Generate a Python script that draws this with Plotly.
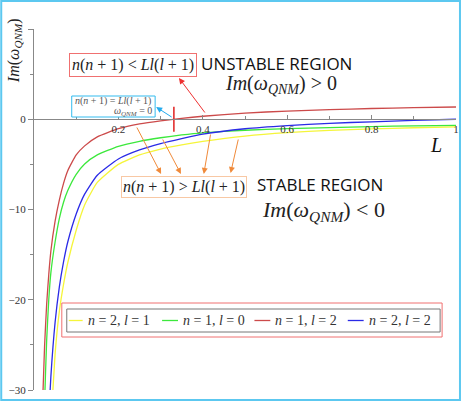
import plotly.graph_objects as go

# ---------------- data ----------------
L_vals = [0.02, 0.025, 0.03, 0.035, 0.04, 0.05, 0.06, 0.07, 0.08, 0.1, 0.12, 0.15,
          0.2, 0.25, 0.3, 0.35, 0.4, 0.5, 0.6, 0.7, 0.8, 0.9, 1.0]

im_n2_l1 = [-66.0, -53.0, -45.0, -38.5, -34.0, -26.0, -21.3, -18.3, -15.9, -12.3, -9.5, -7.0,
            -5.0, -3.95, -3.3, -2.83, -2.45, -1.86, -1.48, -1.24, -1.07, -0.94, -0.85]
im_n1_l0 = [-40.0, -31.5, -24.5, -20.0, -17.0, -13.6, -11.0, -9.2, -7.9, -6.1, -4.95, -3.95,
            -3.0, -2.44, -2.05, -1.74, -1.5, -1.22, -1.04, -0.92, -0.81, -0.73, -0.67]
im_n1_l2 = [-32.0, -25.2, -20.5, -17.2, -14.6, -11.3, -8.95, -7.1, -5.7, -3.95, -2.95, -1.95,
            -1.05, -0.52, -0.17, 0.1, 0.33, 0.68, 0.91, 1.07, 1.19, 1.28, 1.36]
im_n2_l2 = [-56.0, -45.0, -38.0, -33.0, -28.5, -22.5, -18.6, -15.8, -13.6, -10.5, -8.3, -6.2,
            -4.4, -3.4, -2.7, -2.15, -1.65, -1.05, -0.7, -0.45, -0.28, -0.13, 0.0]

series_names = ["<i>n</i> = 2, <i>l</i> = 1", "<i>n</i> = 1, <i>l</i> = 0",
                "<i>n</i> = 1, <i>l</i> = 2", "<i>n</i> = 2, <i>l</i> = 2"]
series_values = [im_n2_l1, im_n1_l0, im_n1_l2, im_n2_l2]
series_colors = ["#f5f53a", "#3ce83c", "#cc4a4a", "#2a2ae6"]

x_tick_vals = [0.2, 0.4, 0.6, 0.8, 1.0]
x_tick_text = ["0.2", "0.4", "0.6", "0.8", "1"]
y_tick_vals = [-30, -20, -10, 0, 10]
y_tick_text = ["\u221230", "\u221220", "\u221210", "0", ""]

# ---------------- layout helpers (pixel -> paper) ----------------
W, H = 464, 401
ML, MR, MT, MB = 34, 5, 29, 11
PW, PH = W - ML - MR, H - MT - MB


def px(x):
    return (x - ML) / PW


def py(y):
    return (H - MB - y) / PH


SERIF = "Liberation Serif"
SANS = "Open Sans"

fig = go.Figure()
for name, vals, col in zip(series_names, series_values, series_colors):
    fig.add_trace(go.Scatter(x=L_vals, y=vals, mode="lines", name=name, showlegend=False,
                             line=dict(color=col, width=1.3, shape="spline", smoothing=0.5)))

# red marker where the n=1, l=2 curve crosses zero (from the data)
xc = None
for i in range(len(im_n1_l2) - 1):
    a, b = im_n1_l2[i], im_n1_l2[i + 1]
    if a < 0 <= b:
        xc = L_vals[i] + (0 - a) * (L_vals[i + 1] - L_vals[i]) / (b - a)
        break
fig.add_trace(go.Scatter(x=[xc], y=[0], mode="markers", showlegend=False,
                         marker=dict(symbol="line-ns", size=18,
                                     line=dict(color="#e02020", width=1.5))))

fig.update_layout(
    width=W, height=H,
    margin=dict(l=ML, r=MR, t=MT, b=MB),
    paper_bgcolor="white", plot_bgcolor="white",
    font=dict(family=SERIF, size=12, color="#333"),
    showlegend=False,
)
fig.update_xaxes(range=[0, 1], anchor="free", position=0.75, showline=True, linecolor="#888",
                 linewidth=1, showgrid=False, zeroline=False,
                 tickmode="array", tickvals=x_tick_vals, ticktext=x_tick_text,
                 ticks="inside", ticklen=4, tickcolor="#888",
                 minor=dict(tickmode="linear", tick0=0, dtick=0.1, ticks="inside", ticklen=3, tickcolor="#888"),
                 tickfont=dict(family=SERIF, size=11, color="#333"))
fig.update_yaxes(range=[-30, 10], showline=True, linecolor="#888", linewidth=1,
                 showgrid=False, zeroline=False,
                 tickmode="array", tickvals=y_tick_vals, ticktext=y_tick_text,
                 ticks="outside", ticklen=5, tickcolor="#888",
                 minor=dict(tickmode="linear", tick0=0, dtick=5, ticks="outside", ticklen=3, tickcolor="#888"),
                 tickfont=dict(family=SERIF, size=11, color="#333"))

shapes = []
# frame around the whole picture
shapes.append(dict(type="rect", xref="paper", yref="paper",
                   x0=px(1), x1=px(463), y0=py(400), y1=py(1),
                   line=dict(color="#5cc8f0", width=2), layer="above"))
# legend boxes (red outer, grey inner)
shapes.append(dict(type="rect", xref="paper", yref="paper",
                   x0=px(62), x1=px(445), y0=py(337), y1=py(303),
                   fillcolor="white", line=dict(color="#f07070", width=1), layer="above"))
shapes.append(dict(type="rect", xref="paper", yref="paper",
                   x0=px(67), x1=px(443), y0=py(332), y1=py(309),
                   line=dict(color="#777", width=1), layer="above"))
# blue box
shapes.append(dict(type="rect", xref="paper", yref="paper",
                   x0=px(72), x1=px(156), y0=py(117), y1=py(96),
                   fillcolor="white", line=dict(color="#33bbee", width=1), layer="above"))

ann = []
ann.append(dict(x=px(15), y=py(51), xref="paper", yref="paper", textangle=-90,
                xanchor="center", yanchor="middle",
                text="<i>Im</i>(<i>\u03c9</i><sub><i>QNM</i></sub>)", showarrow=False,
                font=dict(family=SERIF, size=16, color="#222")))
ann.append(dict(x=px(439), y=py(145), xref="paper", yref="paper", xanchor="center", yanchor="middle",
                text="<i>L</i>", showarrow=False, font=dict(family=SERIF, size=20, color="#111")))
ann.append(dict(x=px(134), y=py(65), xref="paper", yref="paper", xanchor="center", yanchor="middle",
                text="<i>n</i>(<i>n</i> + 1) &lt; <i>Ll</i>(<i>l</i> + 1)", showarrow=False,
                bordercolor="#f07070", borderwidth=1, borderpad=2, bgcolor="white",
                font=dict(family=SERIF, size=16, color="#222")))
ann.append(dict(x=px(200), y=py(64), xref="paper", yref="paper", xanchor="left", yanchor="middle",
                text="UNSTABLE REGION", showarrow=False, font=dict(family=SANS, size=17, color="#111")))
ann.append(dict(x=px(224), y=py(85), xref="paper", yref="paper", xanchor="left", yanchor="middle",
                text="<i>Im</i>(<i>\u03c9</i><sub><i>QNM</i></sub>) &gt; 0", showarrow=False,
                font=dict(family=SERIF, size=20, color="#222")))
ann.append(dict(x=px(114), y=py(101), xref="paper", yref="paper", xanchor="center", yanchor="middle",
                text="<i>n</i>(<i>n</i> + 1) = <i>Ll</i>(<i>l</i> + 1)", showarrow=False,
                font=dict(family=SERIF, size=10, color="#555")))
ann.append(dict(x=px(155), y=py(111), xref="paper", yref="paper", xanchor="right", yanchor="middle",
                text="<i>\u03c9</i><sub><i>QNM</i></sub> = 0", showarrow=False,
                font=dict(family=SERIF, size=10, color="#555")))
ann.append(dict(x=px(185), y=py(187), xref="paper", yref="paper", xanchor="center", yanchor="middle",
                text="<i>n</i>(<i>n</i> + 1) &gt; <i>Ll</i>(<i>l</i> + 1)", showarrow=False,
                bordercolor="#f8c8a4", borderwidth=1, borderpad=1, bgcolor="white",
                font=dict(family=SERIF, size=16, color="#222")))
ann.append(dict(x=px(257), y=py(184), xref="paper", yref="paper", xanchor="left", yanchor="middle",
                text="STABLE REGION", showarrow=False, font=dict(family=SANS, size=17, color="#111")))
ann.append(dict(x=px(262), y=py(211), xref="paper", yref="paper", xanchor="left", yanchor="middle",
                text="<i>Im</i>(<i>\u03c9</i><sub><i>QNM</i></sub>) &lt; 0", showarrow=False,
                font=dict(family=SERIF, size=22, color="#222")))

# legend entries (short coloured swatch + label)
legend_x = [(69, 83), (163, 179), (256, 272), (350, 366)]
for (x0, x1), name, col in zip(legend_x, series_names, series_colors):
    shapes.append(dict(type="line", xref="paper", yref="paper",
                       x0=px(x0), x1=px(x1), y0=py(320.5), y1=py(320.5),
                       line=dict(color=col, width=1.3), layer="above"))
    ann.append(dict(x=px(x1 + 3), y=py(320.5), xref="paper", yref="paper",
                    xanchor="left", yanchor="middle", text=name, showarrow=False,
                    font=dict(family=SERIF, size=14, color="#333")))


# arrows: head position in paper coords, tail given as pixel offset
def arrow(hx, hy, tx, ty, col):
    return dict(x=px(hx), y=py(hy), xref="paper", yref="paper",
                ax=tx - hx, ay=ty - hy, axref="pixel", ayref="pixel",
                text="", showarrow=True, arrowhead=2, arrowsize=1.2, arrowwidth=1,
                arrowcolor=col, standoff=0, startstandoff=0)


ann.append(arrow(180, 78, 207, 114, "#ee3030"))
ann.append(arrow(157, 107, 174, 118, "#22aaee"))
OR = "#f08a3a"
ann.append(arrow(162, 174, 137, 126, OR))
ann.append(arrow(182, 174, 163, 138, OR))
ann.append(arrow(205, 174, 212, 133, OR))
ann.append(arrow(232, 173, 240, 138, OR))

fig.update_layout(annotations=ann, shapes=shapes)
fig.write_html("out.html", config={"displayModeBar": False},
               post_script="document.body.style.margin='0';")
